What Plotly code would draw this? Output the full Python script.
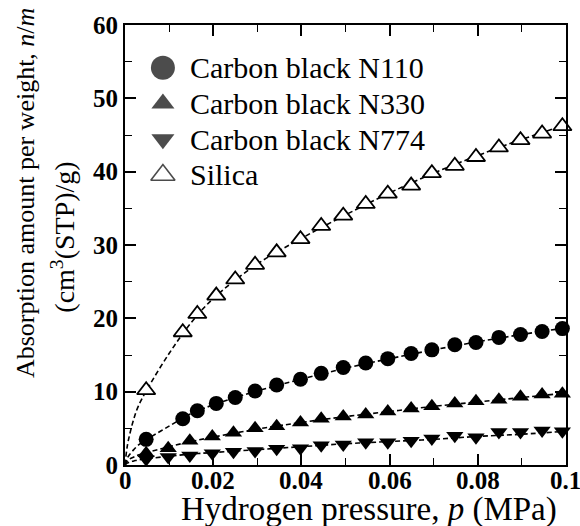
import plotly.graph_objects as go

# ---------------- data ----------------
p_a = [0.0048, 0.0131, 0.0164, 0.0207, 0.0250, 0.0295, 0.0344, 0.0398, 0.0445, 0.0495,
       0.0546, 0.0596, 0.0649, 0.0696, 0.0748, 0.0796, 0.0848, 0.0897, 0.0946, 0.0992]
p_b = [0.0048, 0.0098, 0.0147, 0.0198, 0.0246, 0.0295, 0.0344, 0.0398, 0.0445, 0.0495,
       0.0546, 0.0596, 0.0649, 0.0696, 0.0748, 0.0796, 0.0848, 0.0897, 0.0946, 0.0992]

n110 = [3.5, 6.3, 7.4, 8.4, 9.2, 10.1, 10.9, 11.7, 12.5, 13.3,
        13.9, 14.5, 15.2, 15.7, 16.4, 16.7, 17.4, 17.8, 18.2, 18.6]
n330 = [1.6, 2.3, 3.3, 3.9, 4.4, 5.0, 5.3, 5.8, 6.3, 6.6,
        6.9, 7.3, 7.7, 8.0, 8.4, 8.7, 8.9, 9.3, 9.6, 9.7]
n774 = [0.8, 1.1, 1.3, 1.6, 1.8, 1.9, 2.2, 2.3, 2.7, 2.8,
        3.1, 3.1, 3.3, 3.6, 4.0, 3.8, 4.5, 4.5, 4.7, 4.6]
silica = [10.2, 18.1, 20.6, 23.1, 25.3, 27.3, 29.0, 30.8, 32.6, 34.0,
          35.6, 37.0, 38.1, 39.8, 40.8, 42.0, 43.3, 44.3, 45.2, 46.2]

# dashed fitted curves
fit_p = [0, 0.0005, 0.001, 0.002, 0.003, 0.005, 0.01, 0.015, 0.02, 0.03,
         0.04, 0.05, 0.06, 0.07, 0.08, 0.09, 0.1]
fit_n110 = [0, 0.9, 1.4, 2.1, 2.7, 3.5, 5.3, 7.0, 8.2, 10.1,
            11.7, 13.2, 14.5, 15.7, 16.8, 17.8, 18.7]
fit_n330 = [0, 0.5, 0.8, 1.1, 1.35, 1.7, 2.5, 3.2, 3.8, 4.9,
            5.8, 6.6, 7.3, 8.0, 8.6, 9.2, 9.8]
fit_n774 = [0, 0.25, 0.4, 0.55, 0.7, 0.85, 1.2, 1.5, 1.7, 2.1,
            2.5, 2.9, 3.2, 3.5, 3.9, 4.2, 4.6]
fit_silica = [0, 2.5, 4.0, 6.3, 8.0, 10.3, 15.2, 19.4, 22.7, 27.4,
              30.9, 34.1, 37.1, 39.8, 42.2, 44.4, 46.4]

legend_labels = ["Carbon black N110", "Carbon black N330", "Carbon black N774", "Silica"]
x_ticks = [0, 0.02, 0.04, 0.06, 0.08, 0.1]
y_ticks = [0, 10, 20, 30, 40, 50, 60]

# ---------------- figure ----------------
SERIF = "Times New Roman, Liberation Serif, Times, serif"
fig = go.Figure()

dash = dict(color="black", width=1.6, dash="5px,3px")
for fy in (fit_silica, fit_n110, fit_n330, fit_n774):
    fig.add_trace(go.Scatter(x=fit_p, y=fy, mode="lines", line=dash,
                             line_shape="spline", showlegend=False, hoverinfo="skip"))

fig.add_trace(go.Scatter(x=p_a, y=n110, mode="markers", showlegend=False, cliponaxis=False,
                         marker=dict(symbol="circle", size=15, color="black")))
fig.add_trace(go.Scatter(x=p_b, y=n330, mode="markers", showlegend=False, cliponaxis=False,
                         marker=dict(symbol="triangle-up", size=15, color="black")))
fig.add_trace(go.Scatter(x=p_b, y=n774, mode="markers", showlegend=False, cliponaxis=False,
                         marker=dict(symbol="triangle-down", size=15, color="black")))
fig.add_trace(go.Scatter(x=p_a, y=silica, mode="markers", showlegend=False, cliponaxis=False,
                         marker=dict(symbol="triangle-up", size=16, color="white",
                                     line=dict(color="black", width=1.8))))

# legend symbols drawn on a small hidden subplot
fig.add_trace(go.Scatter(
    x=[0 for _ in legend_labels], y=legend_labels, mode="markers", showlegend=False,
    xaxis="x3", yaxis="y3", cliponaxis=False, hoverinfo="skip",
    marker=dict(symbol=["circle", "triangle-up", "triangle-down", "triangle-up"],
                size=[24, 20, 20, 21],
                color=["black", "black", "black", "white"],
                line=dict(color="black", width=[0, 0, 0, 1.6]))))

W, H = 580, 526
ml, mr, mt, mb = 125, 13, 22, 61
pw, ph = W - ml - mr, H - mt - mb


def px_x(px):
    return (px - ml) / pw


def px_y(py):
    return (H - mb - py) / ph


row_y = [65, 101, 137, 173]
for lab, ry in zip(legend_labels, row_y):
    fig.add_annotation(text=lab, xref="paper", yref="paper", x=px_x(188), y=px_y(ry),
                       xanchor="left", yanchor="middle", showarrow=False,
                       font=dict(family=SERIF, size=30, color="black"))

# x tick labels (placed at the axis' tick values)
for v in x_ticks:
    fig.add_annotation(text=f"{v:g}", xref="x", yref="paper", x=v, y=px_y(481),
                       xanchor="center", yanchor="middle", showarrow=False,
                       font=dict(family=SERIF, size=25, color="black", weight="bold"))

# axis titles
fig.add_annotation(text="Hydrogen pressure, <i>p</i> (MPa)", xref="paper", yref="paper",
                   x=px_x(370), y=px_y(530), xanchor="center", yanchor="bottom",
                   showarrow=False, font=dict(family=SERIF, size=33, color="black"))
fig.add_annotation(text="Absorption amount per weight, <i>n</i>/<i>m</i>", xref="paper",
                   yref="paper", x=px_x(26), y=px_y(191), xanchor="center", yanchor="middle",
                   textangle=-90, showarrow=False,
                   font=dict(family=SERIF, size=26, color="black"))
fig.add_annotation(text="(cm<sup>3</sup>(STP)/g)", xref="paper",
                   yref="paper", x=px_x(63), y=px_y(236), xanchor="center", yanchor="middle",
                   textangle=-90, showarrow=False,
                   font=dict(family=SERIF, size=28, color="black"))

axis_common = dict(showline=True, linecolor="black", linewidth=2, mirror="ticks",
                   ticks="inside", ticklen=11, tickwidth=1.6, tickcolor="black",
                   showgrid=False, zeroline=False, ticklabeloverflow="allow",
                   tickfont=dict(family=SERIF, size=25, color="black", weight="bold"))

fig.update_layout(
    width=W, height=H, margin=dict(l=ml, r=mr, t=mt, b=mb),
    paper_bgcolor="white", plot_bgcolor="white", showlegend=False,
    xaxis=dict(range=[0, 0.10002], tickvals=x_ticks, showticklabels=False,
               minor=dict(dtick=0.01, tick0=0, ticks="inside", ticklen=7, tickwidth=1.4,
                          tickcolor="black"),
               **axis_common),
    yaxis=dict(range=[0, 60], tickvals=y_ticks, ticktext=[str(v) for v in y_ticks],
               minor=dict(dtick=5, tick0=0, ticks="inside", ticklen=7, tickwidth=1.4,
                          tickcolor="black"),
               ticklabelstandoff=0, **axis_common),
    xaxis3=dict(domain=[px_x(143), px_x(183)], range=[-1, 1], visible=False, anchor="y3",
                fixedrange=True),
    yaxis3=dict(domain=[px_y(191), px_y(47)], type="category",
                categoryorder="array", categoryarray=legend_labels,
                range=[3.5, -0.5], visible=False, anchor="x3", fixedrange=True),
)

fig.write_html("out.html")
